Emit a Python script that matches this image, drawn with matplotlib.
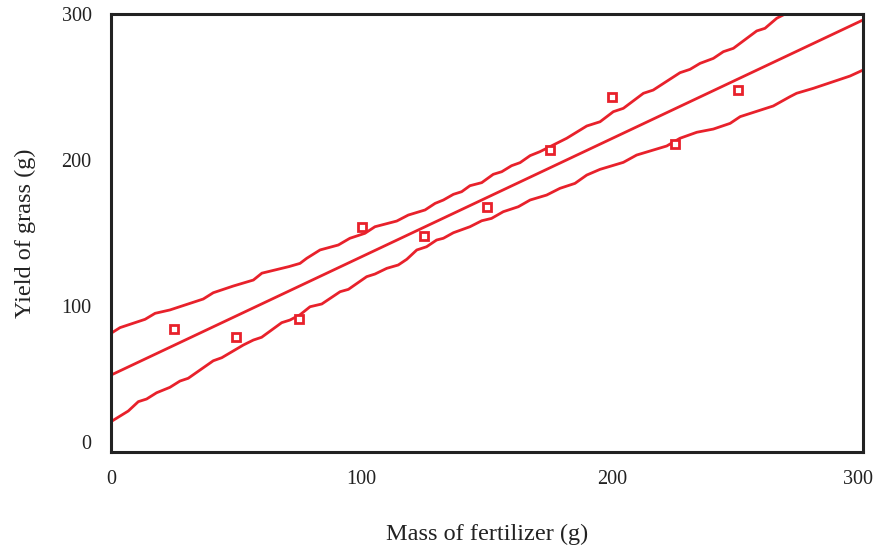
import matplotlib
matplotlib.use("Agg")
import matplotlib.pyplot as plt
from matplotlib.transforms import ScaledTranslation

plt.rcParams['font.family'] = ['Liberation Serif', 'DejaVu Serif']

red = '#e8212b'

# measured points
fert = [25, 50, 75, 100, 125, 150, 175, 200, 225, 250]
yield_g = [84, 79, 91, 154, 148, 168, 207, 243, 211, 248]

# fitted line (end points)
fit_x = [0, 300]
fit_y = [52.7, 295.9]

# upper band
upper_x = [0, 3.6, 13.6, 17.6, 23.5, 36.8, 40.8, 48.8, 56.8, 60.2, 71, 75.4,
           78.1, 83.4, 90.7, 95.3, 101.3, 105.3, 114, 118.6, 125.3, 129.3,
           132.6, 136.6, 139.9, 143.2, 147.9, 152.5, 155.9, 159.8, 163.2,
           167.2, 171.1, 173.8, 181.8, 189.8, 195.1, 200.4, 204.4, 212.4,
           216.3, 227, 231, 235, 240.3, 244.3, 248.3, 257.6, 260.9, 265.6,
           269.5, 272]
upper_y = [81.3, 85.2, 90.9, 95.0, 97.3, 104.8, 109.1, 113.7, 117.8, 122.5,
           127, 129.2, 132.7, 138.4, 141.8, 146.4, 149.8, 154.3, 158.2, 162.3,
           165.8, 170.3, 172.6, 176.5, 178.3, 182.4, 184.5, 190.2, 192, 196.1,
           198.2, 203, 205.7, 208, 214.9, 223.3, 226.2, 233.1, 235.4, 245.7,
           247.9, 259.8, 262.1, 266.2, 269.6, 274.2, 276.5, 288.4, 290.2,
           297.1, 300.5, 303]

# lower band
lower_x = [0, 6.9, 10.9, 14.2, 18.2, 23.5, 27.5, 30.8, 40.8, 44.2, 52.8, 56.8,
           60.1, 68.1, 71.4, 75.4, 79.4, 84.1, 91.4, 94.7, 102, 105.3, 110,
           114.6, 118, 122, 125.9, 129.9, 132.6, 136.6, 143.2, 147.9, 151.8,
           156.5, 162.5, 167.2, 173.8, 179.1, 185.1, 189.8, 195.1, 204.4,
           209.7, 221.7, 227, 233.7, 240.3, 247, 251, 264.2, 270.9, 273.5,
           280.2, 294.8, 300]
lower_y = [20.8, 28.1, 34.5, 36.3, 40.6, 44.3, 48.6, 50.5, 62.5, 64.6, 73.3,
           76.7, 78.6, 88.6, 90.4, 94, 99.5, 101.4, 109.8, 111.4, 120.1, 121.9,
           125.8, 128.1, 132, 138.4, 140.6, 145.2, 146.4, 150.2, 154.3, 158.4,
           160, 164.6, 168, 172.6, 176, 180.6, 184, 189.7, 193.6, 198.4, 203.4,
           209.6, 214.9, 219, 221.2, 225.1, 229.7, 237, 243.4, 245.7, 249.1,
           257.5, 261.6]

fig = plt.figure(figsize=(8.74, 5.45), dpi=100)
ax = fig.add_axes([0.127, 0.1706, 0.8604, 0.8037])

ax.plot(upper_x, upper_y, color=red, lw=2)
ax.plot(lower_x, lower_y, color=red, lw=2)
ax.plot(fit_x, fit_y, color=red, lw=2)
ax.plot(fert, yield_g, 's', color=red, mfc='white', mec=red, ms=6, mew=2)

ax.set_xlim(0, 300)
ax.set_ylim(0, 300)
ax.set_xticks([0, 100, 200, 300])
ax.set_yticks([0, 100, 200, 300])
ax.tick_params(length=0, labelsize=14.5, colors='#222222')
ax.tick_params(axis='x', pad=13)
ax.tick_params(axis='y', pad=14)
for s in ax.spines.values():
    s.set_linewidth(2.2)
    s.set_color('#222222')

ax.set_xlabel('Mass of fertilizer (g)', fontsize=17.5, color='#222222', labelpad=25)
ax.set_ylabel('Yield of grass (g)', fontsize=17.5, color='#222222', labelpad=18)

fig.canvas.draw()
# nudge a couple of tick labels like in the original
ylab0 = ax.get_yticklabels()[0]
ylab0.set_transform(ylab0.get_transform() + ScaledTranslation(0, 10 / 100, fig.dpi_scale_trans))
xlab3 = ax.get_xticklabels()[-1]
xlab3.set_transform(xlab3.get_transform() + ScaledTranslation(-5 / 100, 0, fig.dpi_scale_trans))

fig.savefig('out.png', dpi=100)
